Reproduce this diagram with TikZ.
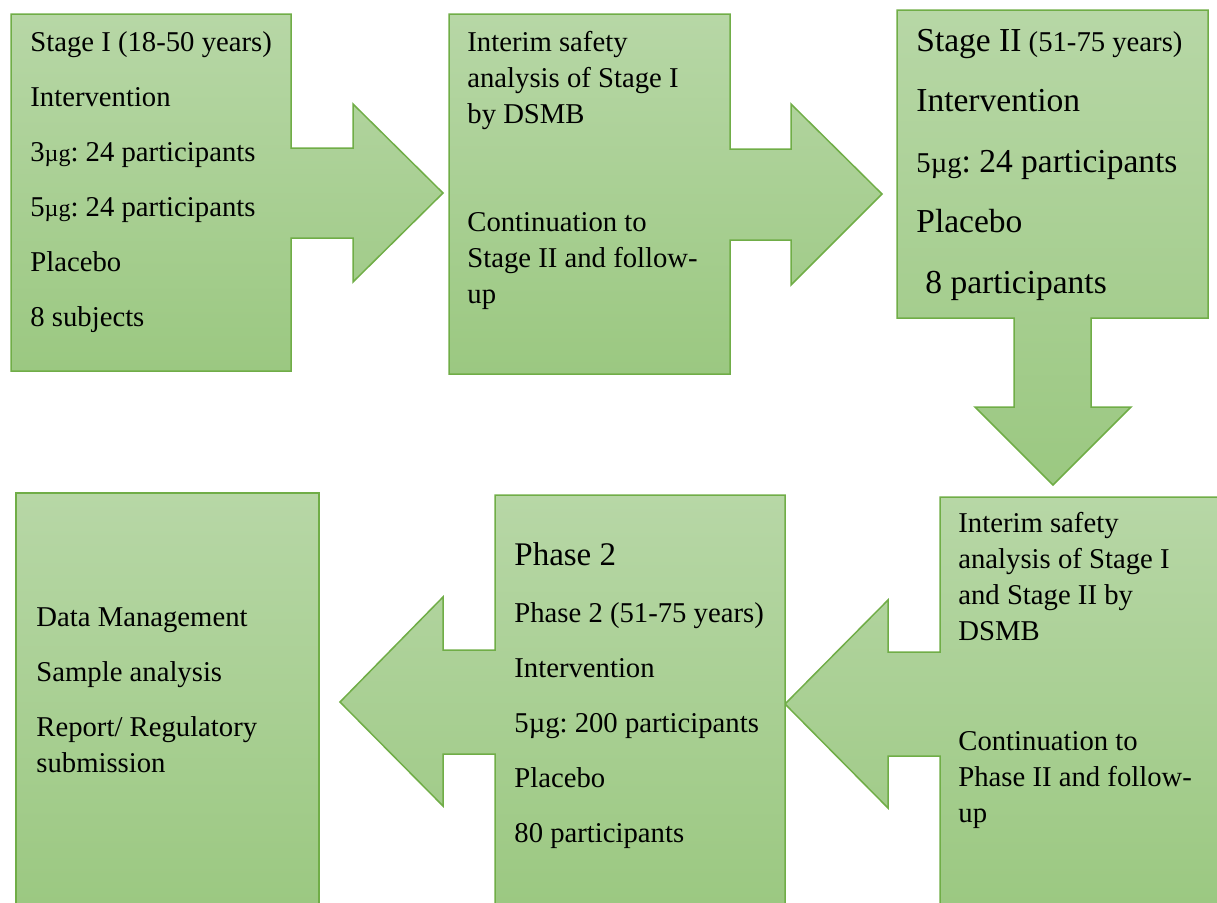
\documentclass[tikz,border=0pt]{standalone}
\usepackage{fontspec}
\setmainfont{Liberation Serif}
\frenchspacing
\definecolor{calloutedge}{RGB}{112,173,71}
\definecolor{callouttop}{RGB}{183,215,166}
\definecolor{calloutbottom}{RGB}{155,200,129}

\begin{document}
\begin{tikzpicture}[x=0.5pt, y=-0.5pt,
    callout/.style={draw=calloutedge, line width=0.75pt, top color=callouttop, bottom color=calloutbottom},
    boxtext/.style={anchor=base west, inner sep=0pt, align=left, font=\fontsize{14.35}{18}\selectfont},
    bigtext/.style={boxtext, font=\fontsize{16.75}{21}\selectfont}]
    \useasboundingbox (0,0) rectangle (1217,902);
    \clip (0,0) rectangle (1217,902);

    % Stage I box with arrow to the right
    \path[callout] (11,14) -- (291,14) -- (291,148) -- (353,148) -- (353,104) -- (443,193)
        -- (353,282) -- (353,238) -- (291,238) -- (291,371) -- (11,371) -- cycle;

    % Interim analysis box with arrow to the right
    \path[callout] (449,14) -- (730,14) -- (730,149) -- (791,149) -- (791,104) -- (882,194)
        -- (791,285) -- (791,240) -- (730,240) -- (730,374) -- (449,374) -- cycle;

    % Stage II box with arrow down
    \path[callout] (897,10) -- (1208,10) -- (1208,318) -- (1091,318) -- (1091,407) -- (1131,407)
        -- (1053,485) -- (975,407) -- (1014,407) -- (1014,318) -- (897,318) -- cycle;

    % Second interim analysis box with arrow to the left
    \path[callout] (940,497) -- (1218,497) -- (1218,910) -- (940,910) -- (940,756) -- (888,756)
        -- (888,808) -- (785,704) -- (888,600) -- (888,652) -- (940,652) -- cycle;

    % Phase 2 box with arrow to the left
    \path[callout] (495,495) -- (785,495) -- (785,910) -- (495,910) -- (495,754) -- (443,754)
        -- (443,806) -- (340,702) -- (443,597) -- (443,650) -- (495,650) -- cycle;

    % Final box
    \path[callout] (16,493) rectangle (319,910);

    % Texts (placed at the baseline of their last line)
    \node[boxtext] (stageone) at (30,326) {Stage I (18-50 years)\\[9.5pt]
        Intervention\\[9.5pt]
        3{\fontsize{12}{18}\selectfont µg}: 24 participants\\[9.5pt]
        5{\fontsize{12}{18}\selectfont µg}: 24 participants\\[9.5pt]
        Placebo\\[9.5pt]
        8 subjects};

    \node[boxtext] (interimone) at (467,303) {Interim safety\\
        analysis of Stage I\\
        by DSMB\\[36pt]
        Continuation to\\
        Stage II and follow-\\
        up};

    \node[bigtext] (stagetwo) at (916,293) {Stage II{\fontsize{14.35}{21}\selectfont{} (51-75 years)}\\[9.25pt]
        Intervention\\[9.25pt]
        {\fontsize{14.35}{21}\selectfont 5µg}: 24 participants\\[9.25pt]
        Placebo\\[9.25pt]
        \hspace{4.5pt}8 participants};

    \node[boxtext] (interimtwo) at (958,822) {Interim safety\\
        analysis of Stage I\\
        and Stage II by\\
        DSMB\\[37pt]
        Continuation to\\
        Phase II and follow-\\
        up};

    \node[boxtext] (phasetwo) at (514,842) {{\fontsize{16.5}{18}\selectfont Phase 2}\\[10.5pt]
        Phase 2 (51-75 years)\\[9.5pt]
        Intervention\\[9.5pt]
        5µg: 200 participants\\[9.5pt]
        Placebo\\[9.5pt]
        80 participants};

    \node[boxtext] (closeout) at (36,772) {Data Management\\[9.5pt]
        Sample analysis\\[9.5pt]
        Report/ Regulatory\\
        submission};
\end{tikzpicture}
\end{document}
